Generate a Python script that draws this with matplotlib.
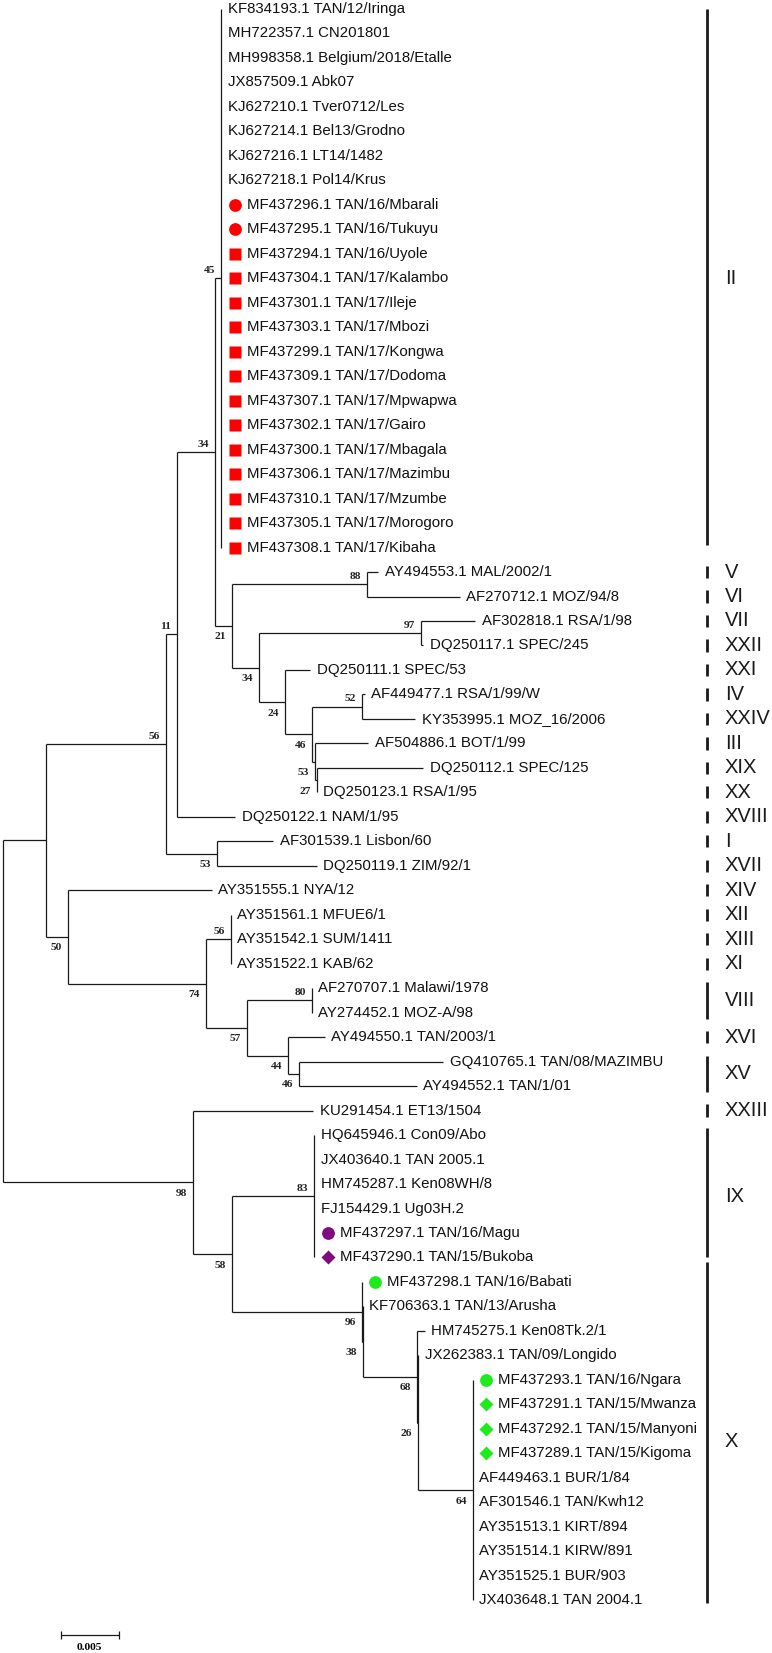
# Árbol filogenético (neighbour-joining) de secuencias de PPR por linajes
import matplotlib
matplotlib.use('Agg')

import matplotlib.pyplot as plt
from matplotlib.transforms import offset_copy, blended_transform_factory

plt.rcParams['font.family'] = ['Liberation Sans', 'DejaVu Sans']

# --- hojas, de arriba a abajo ---
leaf_names = [
    'KF834193.1 TAN/12/Iringa', 'MH722357.1 CN201801', 'MH998358.1 Belgium/2018/Etalle',
    'JX857509.1 Abk07', 'KJ627210.1 Tver0712/Les', 'KJ627214.1 Bel13/Grodno',
    'KJ627216.1 LT14/1482', 'KJ627218.1 Pol14/Krus', 'MF437296.1 TAN/16/Mbarali',
    'MF437295.1 TAN/16/Tukuyu', 'MF437294.1 TAN/16/Uyole', 'MF437304.1 TAN/17/Kalambo',
    'MF437301.1 TAN/17/Ileje', 'MF437303.1 TAN/17/Mbozi', 'MF437299.1 TAN/17/Kongwa',
    'MF437309.1 TAN/17/Dodoma', 'MF437307.1 TAN/17/Mpwapwa', 'MF437302.1 TAN/17/Gairo',
    'MF437300.1 TAN/17/Mbagala', 'MF437306.1 TAN/17/Mazimbu', 'MF437310.1 TAN/17/Mzumbe',
    'MF437305.1 TAN/17/Morogoro', 'MF437308.1 TAN/17/Kibaha',
    'AY494553.1 MAL/2002/1', 'AF270712.1 MOZ/94/8', 'AF302818.1 RSA/1/98',
    'DQ250117.1 SPEC/245', 'DQ250111.1 SPEC/53', 'AF449477.1 RSA/1/99/W',
    'KY353995.1 MOZ_16/2006', 'AF504886.1 BOT/1/99', 'DQ250112.1 SPEC/125',
    'DQ250123.1 RSA/1/95', 'DQ250122.1 NAM/1/95', 'AF301539.1 Lisbon/60',
    'DQ250119.1 ZIM/92/1', 'AY351555.1 NYA/12', 'AY351561.1 MFUE6/1',
    'AY351542.1 SUM/1411', 'AY351522.1 KAB/62', 'AF270707.1 Malawi/1978',
    'AY274452.1 MOZ-A/98', 'AY494550.1 TAN/2003/1', 'GQ410765.1 TAN/08/MAZIMBU',
    'AY494552.1 TAN/1/01', 'KU291454.1 ET13/1504', 'HQ645946.1 Con09/Abo',
    'JX403640.1 TAN 2005.1', 'HM745287.1 Ken08WH/8', 'FJ154429.1 Ug03H.2',
    'MF437297.1 TAN/16/Magu', 'MF437290.1 TAN/15/Bukoba', 'MF437298.1 TAN/16/Babati',
    'KF706363.1 TAN/13/Arusha', 'HM745275.1 Ken08Tk.2/1', 'JX262383.1 TAN/09/Longido',
    'MF437293.1 TAN/16/Ngara', 'MF437291.1 TAN/15/Mwanza', 'MF437292.1 TAN/15/Manyoni',
    'MF437289.1 TAN/15/Kigoma', 'AF449463.1 BUR/1/84', 'AF301546.1 TAN/Kwh12',
    'AY351513.1 KIRT/894', 'AY351514.1 KIRW/891', 'AY351525.1 BUR/903',
    'JX403648.1 TAN 2004.1',
]
leaf_parent = (['n45'] * 23 + ['n88', 'n88', 'n97', 'n97', 'n24', 'n52', 'n52', 'n53b',
               'n27', 'n27', 'n11', 'n53', 'n53', 'n50', 'n56b', 'n56b', 'n56b', 'n80',
               'n80', 'n44', 'n46', 'n46', 'n98'] + ['n83'] * 6 +
               ['n96', 'n38', 'n68', 'n26'] + ['n64'] * 10)
leaf_len = ([0.0] * 23 + [0.00100, 0.00804, 0.00466, 0.00020, 0.00216, 0.00028, 0.00460,
            0.00457, 0.00917, 0.0, 0.00503, 0.00488, 0.00862, 0.01239, 0.0, 0.0, 0.0,
            0.0, 0.0, 0.00316, 0.01241, 0.01012, 0.01040] + [0.0] * 6 +
            [0.0, 0.0, 0.00070, 0.0] + [0.0] * 10)

# muestras de este estudio: forma del símbolo
sample_marker = {
    'MF437296.1 TAN/16/Mbarali': 'circle', 'MF437295.1 TAN/16/Tukuyu': 'circle',
    'MF437294.1 TAN/16/Uyole': 'square', 'MF437304.1 TAN/17/Kalambo': 'square',
    'MF437301.1 TAN/17/Ileje': 'square', 'MF437303.1 TAN/17/Mbozi': 'square',
    'MF437299.1 TAN/17/Kongwa': 'square', 'MF437309.1 TAN/17/Dodoma': 'square',
    'MF437307.1 TAN/17/Mpwapwa': 'square', 'MF437302.1 TAN/17/Gairo': 'square',
    'MF437300.1 TAN/17/Mbagala': 'square', 'MF437306.1 TAN/17/Mazimbu': 'square',
    'MF437310.1 TAN/17/Mzumbe': 'square', 'MF437305.1 TAN/17/Morogoro': 'square',
    'MF437308.1 TAN/17/Kibaha': 'square', 'MF437297.1 TAN/16/Magu': 'circle',
    'MF437290.1 TAN/15/Bukoba': 'diamond', 'MF437298.1 TAN/16/Babati': 'circle',
    'MF437293.1 TAN/16/Ngara': 'circle', 'MF437291.1 TAN/15/Mwanza': 'diamond',
    'MF437292.1 TAN/15/Manyoni': 'diamond', 'MF437289.1 TAN/15/Kigoma': 'diamond',
}

# --- nodos internos: nombre, padre, distancia a la raíz (sust./sitio), bootstrap ---
node_names = ['root', 'A', 'n98', 'n56', 'n50', 'n11', 'n53', 'n34a', 'n45', 'n21',
              'n88', 'n34b', 'n97', 'n24', 'n46b', 'n52', 'n53b', 'n27', 'n74', 'n56b',
              'n57', 'n80', 'n44', 'n46', 'n58', 'n83', 'n96', 'n38', 'n68', 'n26', 'n64']
node_parent = [None, 'root', 'root', 'A', 'A', 'n56', 'n56', 'n11', 'n34a', 'n34a',
               'n21', 'n21', 'n34b', 'n34b', 'n24', 'n46b', 'n46b', 'n53b', 'n50', 'n74',
               'n74', 'n57', 'n57', 'n44', 'n98', 'n58', 'n58', 'n96', 'n38', 'n68', 'n26']
node_depth = [0.0, 0.00371, 0.01638, 0.01405, 0.00563, 0.01500, 0.01845, 0.01830,
              0.01882, 0.01974, 0.03138, 0.02209, 0.03606, 0.02434, 0.02669, 0.03095,
              0.02695, 0.02709, 0.01750, 0.01968, 0.02103, 0.02664, 0.02462, 0.02557,
              0.01974, 0.02684, 0.03095, 0.03103, 0.03569, 0.03582, 0.04052]
node_boot = [None, None, 98, 56, 50, 11, 53, 34, 45, 21, 88, 34, 97, 24, 46, 52, 53, 27,
             74, 56, 57, 80, 44, 46, 58, 83, 96, 38, 68, 26, 64]

# --- linajes (primera y última hoja) ---
clade_names = ['II', 'V', 'VI', 'VII', 'XXII', 'XXI', 'IV', 'XXIV', 'III', 'XIX', 'XX',
               'XVIII', 'I', 'XVII', 'XIV', 'XII', 'XIII', 'XI', 'VIII', 'XVI', 'XV',
               'XXIII', 'IX', 'X']
clade_first = [0, 23, 24, 25, 26, 27, 28, 29, 30, 31, 32, 33, 34, 35, 36, 37, 38, 39, 40,
               42, 43, 45, 46, 52]
clade_last = [22, 23, 24, 25, 26, 27, 28, 29, 30, 31, 32, 33, 34, 35, 36, 37, 38, 39, 41,
              42, 44, 45, 51, 65]

scale_len = 0.005

# estilos
clade_colors = {'II': '#ff0000', 'IX': '#800a80', 'X': '#1eea1e'}
marker_style = {'circle': ('o', 9.2), 'square': ('s', 8.3), 'diamond': ('D', 7)}
boot_above = {'n45', 'n34a', 'n11', 'n56', 'n88', 'n97', 'n52', 'n56b', 'n80', 'n83'}
bar_pad = {'II': (0.0, -0.1), 'IX': (0.3, 0.0), 'X': (0.8, 0.1)}
line_kw = dict(color='#1a1a1a', lw=0.9, solid_capstyle='butt')

# --- disposición del árbol ---
depth = dict(zip(node_names, node_depth))
children = {n: [] for n in node_names}
for n, p in zip(node_names, node_parent):
    if p:
        children[p].append(('node', n))
for i, p in enumerate(leaf_parent):
    children[p].append(('leaf', i))

ypos = {}


def place(n):
    ys = [c if k == 'leaf' else place(c) for k, c in children[n]]
    ypos[n] = (min(ys) + max(ys)) / 2
    return ypos[n]


place('root')

fig = plt.figure(figsize=(7.72, 16.53), dpi=100)
ax = fig.add_axes([0, 0, 1, 1])
ax.axis('off')
px = scale_len / 58.0
row = 24.48
ax.set_xlim(-2.7 * px, (772 - 2.7) * px)
ax.set_ylim((1653 - 9) / row, -9 / row)

for n in node_names:
    x0 = depth[n]
    ys = []
    for k, c in children[n]:
        if k == 'leaf':
            y, x1 = c, x0 + leaf_len[c]
        else:
            y, x1 = ypos[c], depth[c]
        ys.append(y)
        if x1 > x0:
            ax.plot([x0, x1], [y, y], **line_kw)
    ax.plot([x0, x0], [min(ys), max(ys)], **line_kw)

# bootstrap
for n, b in zip(node_names, node_boot):
    if b is None:
        continue
    dy = 8 if n in boot_above else -11
    tr = offset_copy(ax.transData, fig=fig, x=-6, y=dy, units='dots')
    ax.text(depth[n], ypos[n], str(b), transform=tr, ha='right', va='center',
            fontsize=8.2, fontweight='bold', family=['Liberation Serif', 'DejaVu Serif'],
            color='#222222')

# clado al que pertenece cada hoja
leaf_clade = {}
for c, a, b in zip(clade_names, clade_first, clade_last):
    for i in range(a, b + 1):
        leaf_clade[i] = c

# nombres de hojas y marcadores
for i, (name, p) in enumerate(zip(leaf_names, leaf_parent)):
    xt = depth[p] + leaf_len[i]
    if name in sample_marker:
        mk, ms = marker_style[sample_marker[name]]
        tr_m = offset_copy(ax.transData, fig=fig, x=13.5, y=0, units='dots')
        ax.plot(xt, i, marker=mk, ms=ms, color=clade_colors[leaf_clade[i]],
                mec='none', transform=tr_m)
        dx = 25.5
    else:
        dx = 6.5
    tr_t = offset_copy(ax.transData, fig=fig, x=dx, y=0, units='dots')
    ax.text(xt, i, name, transform=tr_t, ha='left', va='center', fontsize=10.8,
            color='#111111')

# barras de linajes
bt = blended_transform_factory(ax.transAxes, ax.transData)
for c, a, b in zip(clade_names, clade_first, clade_last):
    top, bot = bar_pad.get(c, (0.25, 0.25))
    ax.plot([0.9154, 0.9154], [a - top, b + bot], color='#1a1a1a', lw=2.0,
            transform=bt, solid_capstyle='butt')
    ax.text(0.939, (a + b) / 2, c, transform=bt, ha='left', va='center',
            fontsize=14.5, color='#1a1a1a')

# barra de escala
ys = (1635 - 9) / row
ax.plot([scale_len, 2 * scale_len], [ys, ys], **line_kw)
for xs in (scale_len, 2 * scale_len):
    ax.plot([xs, xs], [ys - 0.15, ys + 0.15], **line_kw)
tr_s = offset_copy(ax.transData, fig=fig, x=0, y=-12.5, units='dots')
ax.text(1.5 * scale_len, ys, '0.005', transform=tr_s, ha='center', va='center',
        fontsize=8.2, fontweight='bold', family=['Liberation Serif', 'DejaVu Serif'])

fig.savefig('out.png', dpi=100)
